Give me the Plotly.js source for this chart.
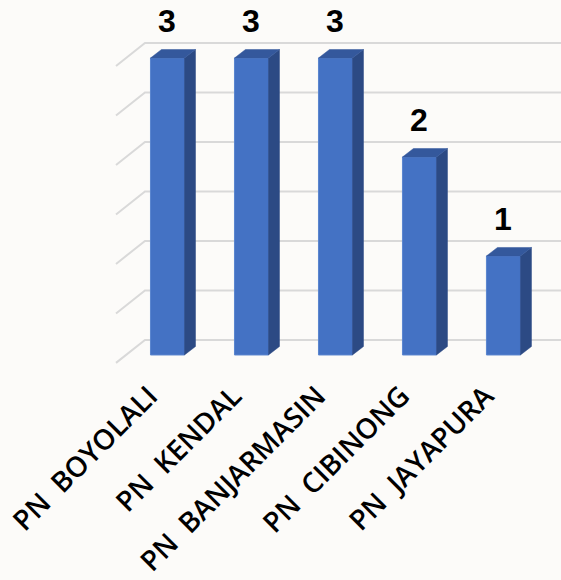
<!DOCTYPE html>
<html>
<head>
<meta charset="utf-8">
<script src="https://cdn.plot.ly/plotly-3.0.1.min.js"></script>
<style>html,body{margin:0;padding:0;background:#fcfbf9;}</style>
</head>
<body>
<div id="chart" style="width:561px;height:580px;"></div>
<script>
// ---- data ----
const categories = ["PN\u00a0 BOYOLALI", "PN\u00a0 KENDAL", "PN\u00a0 BANJARMASIN", "PN\u00a0 CIBINONG", "PN\u00a0 JAYAPURA"];
const values = [3, 3, 3, 2, 1];
const gridValues = [0, 0.5, 1, 1.5, 2, 2.5, 3];

// ---- style constants ----
const barWidth = 0.405;
const depthX = 0.131, depthY = 0.086;      // bar 3D depth (data units)
const wallFrontX = -0.613, wallBackX = -0.268, wallBackY = 0.152, wallFrontY = -0.08;
const xRange = [-1.994, 4.685];
const yRange = [-0.182, 3.586];

const idx = categories.map((c, i) => i);

// side and top faces
const sideX = [], sideY = [], topX = [], topY = [];
idx.forEach(i => {
  const v = values[i];
  const xl = i - barWidth / 2, xr = i + barWidth / 2;
  sideX.push(xr, xr, xr + depthX, xr + depthX, xr, null);
  sideY.push(0, v, v + depthY, depthY, 0, null);
  topX.push(xl, xr, xr + depthX, xl + depthX, xl, null);
  topY.push(v, v, v + depthY, v + depthY, v, null);
});

const traces = [
  {type: 'bar', x: idx, y: values, width: barWidth,
   marker: {color: '#4472c4', line: {color: '#5a85cf', width: 1}},
   hoverinfo: 'skip', showlegend: false},
  {type: 'scatter', mode: 'lines', x: sideX, y: sideY, fill: 'toself',
   fillcolor: '#2c4a84', line: {color: '#2c4a84', width: 0.5},
   hoverinfo: 'skip', showlegend: false},
  {type: 'scatter', mode: 'lines', x: topX, y: topY, fill: 'toself',
   fillcolor: '#34589c', line: {color: '#34589c', width: 0.5},
   hoverinfo: 'skip', showlegend: false}
];

// perspective gridlines
const shapes = gridValues.map(g => ({
  type: 'path', layer: 'below', xref: 'x', yref: 'y',
  path: 'M' + wallFrontX + ',' + (g + wallFrontY) +
        ' L' + wallBackX + ',' + (g + wallBackY) +
        ' L' + xRange[1] + ',' + (g + wallBackY),
  line: {color: '#d9d9d9', width: 2}
}));

const annotations = idx.map(i => ({
  x: i, y: values[i], xref: 'x', yref: 'y', text: String(values[i]),
  showarrow: false, yanchor: 'bottom', yshift: 17,
  font: {family: 'Liberation Sans, Arial, sans-serif', size: 32, color: '#000', weight: 'bold'}
}));

const layout = {
  width: 561, height: 580,
  margin: {l: 0, r: 0, t: 0, b: 207},
  paper_bgcolor: '#fcfbf9', plot_bgcolor: 'rgba(0,0,0,0)',
  showlegend: false,
  bargap: 0,
  xaxis: {range: xRange, tickvals: idx, ticktext: categories, tickangle: -45,
          ticklabelshift: -18,
          showgrid: false, zeroline: false, showline: false, ticks: '',
          tickfont: {family: 'Open Sans, Noto Sans, sans-serif', size: 28, color: '#000', weight: 600},
          fixedrange: true},
  yaxis: {range: yRange, showgrid: false, zeroline: false, showline: false,
          showticklabels: false, ticks: '', fixedrange: true},
  shapes: shapes,
  annotations: annotations
};

Plotly.newPlot('chart', traces, layout, {displayModeBar: false, staticPlot: true});
</script>
</body>
</html>
